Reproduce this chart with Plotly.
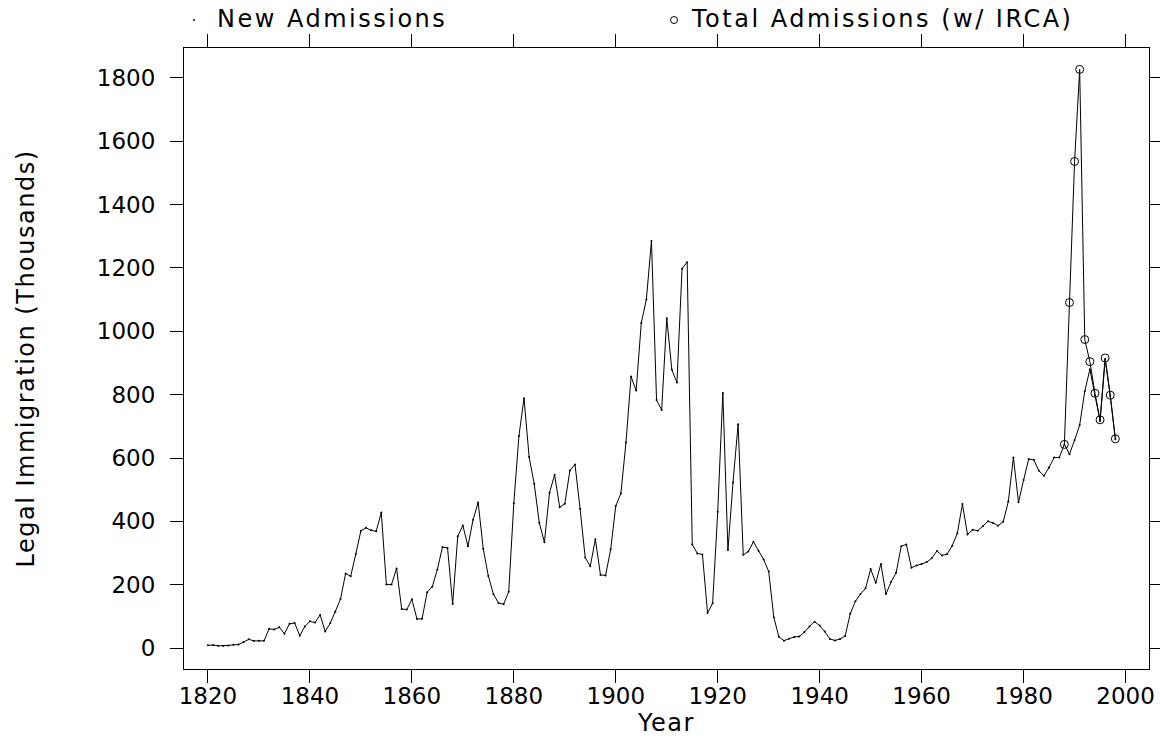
import plotly.graph_objects as go

# Legal immigration to the US (thousands), fiscal years 1820-1998
years = list(range(1820, 1999))
new_admissions = [
    8.4, 9.1, 6.9, 6.4, 7.9, 10.2, 10.8, 18.9, 27.4, 22.5,          # 1820-1829
    23.3, 22.6, 60.5, 58.6, 65.4, 45.4, 76.2, 79.3, 38.9, 68.1,     # 1830-1839
    84.1, 80.3, 104.6, 52.5, 78.6, 114.4, 154.4, 235.0, 226.5, 297.0,  # 1840-1849
    370.0, 379.5, 371.6, 368.6, 427.8, 200.9, 200.4, 251.3, 123.1, 121.3,  # 1850-1859
    153.6, 91.9, 92.0, 176.3, 193.4, 248.1, 318.6, 315.7, 138.8, 352.8,  # 1860-1869
    387.2, 321.4, 404.8, 459.8, 313.3, 227.5, 170.0, 141.9, 138.5, 177.8,  # 1870-1879
    457.3, 669.4, 789.0, 603.3, 518.6, 395.3, 334.2, 490.1, 546.9, 444.4,  # 1880-1889
    455.3, 560.3, 579.7, 439.7, 285.6, 258.5, 343.3, 230.8, 229.3, 311.7,  # 1890-1899
    448.6, 487.9, 648.7, 857.0, 812.9, 1026.5, 1100.7, 1285.3, 782.9, 751.8,  # 1900-1909
    1041.6, 878.6, 838.2, 1197.9, 1218.5, 326.7, 298.8, 295.4, 110.6, 141.1,  # 1910-1919
    430.0, 805.2, 309.6, 522.9, 706.9, 294.3, 304.5, 335.2, 307.3, 279.7,  # 1920-1929
    241.7, 97.1, 35.6, 23.1, 29.5, 35.0, 36.3, 50.2, 67.9, 83.0,          # 1930-1939
    70.8, 51.8, 28.8, 23.7, 28.6, 38.1, 108.7, 147.3, 170.6, 188.3,       # 1940-1949
    249.2, 205.7, 265.5, 170.4, 208.2, 237.8, 321.6, 326.9, 253.3, 260.7,  # 1950-1959
    265.4, 271.3, 283.8, 306.3, 292.2, 296.7, 323.0, 362.0, 454.4, 358.6,  # 1960-1969
    373.3, 370.5, 384.7, 400.1, 394.9, 386.2, 398.6, 462.3, 601.4, 460.3,  # 1970-1979
    530.6, 596.6, 594.1, 559.8, 543.9, 570.0, 601.7, 601.5, 643.0, 612.1,  # 1980-1989
    656.1, 704.0, 810.6, 880.0, 798.4, 716.2, 911.3, 795.8, 659.5,        # 1990-1998
]

irca_years = list(range(1988, 1999))
total_admissions = [643.0, 1090.9, 1536.5, 1827.2, 974.0, 904.3, 804.4, 720.5, 915.9, 798.4, 660.5]

legend_labels = ["New Admissions", "Total Admissions (w/ IRCA)"]
x_ticks = list(range(1820, 2001, 20))
y_ticks = list(range(0, 1801, 200))

FONT = "DejaVu Sans"


def spaced(text, px):
    return '<span style="letter-spacing:%.1fpx">%s</span>' % (px, text)


fig = go.Figure()
fig.add_trace(go.Scatter(
    x=years, y=new_admissions, mode="lines+markers", name=legend_labels[0],
    line=dict(color="black", width=1), marker=dict(color="black", size=2),
    showlegend=False,
))
fig.add_trace(go.Scatter(
    x=irca_years, y=total_admissions, mode="lines+markers", name=legend_labels[1],
    line=dict(color="black", width=1),
    marker=dict(symbol="circle-open", color="black", size=8, line=dict(width=1)),
    showlegend=False,
))

axis_common = dict(
    showline=True, linecolor="black", linewidth=1, mirror="ticks",
    ticks="outside", ticklen=13, tickcolor="black", tickwidth=1,
    showgrid=False, zeroline=False,
    tickfont=dict(family=FONT, size=23, color="black"),
)

fig.update_layout(
    width=1160, height=738,
    margin=dict(l=184, r=11, t=48, b=69, autoexpand=False),
    paper_bgcolor="white", plot_bgcolor="white",
    font=dict(family=FONT, color="black"),
    xaxis=dict(
        range=[1815.3, 2004.6], tickvals=x_ticks,
        title=dict(text=spaced("Year", 1.5), font=dict(family=FONT, size=24, color="black"), standoff=0),
        ticklabelstandoff=-7,
        **axis_common,
    ),
    yaxis=dict(
        range=[-66.3, 1894.7], tickvals=y_ticks,
        title=dict(text=spaced("Legal Immigration (Thousands)", 1.5),
                   font=dict(family=FONT, size=24, color="black"), standoff=55),
        ticklabelstandoff=10,
        **axis_common,
    ),
    annotations=[
        dict(text=spaced(legend_labels[0], 2.5), xref="paper", yref="paper", x=0.0322, y=1.046,
             xanchor="left", yanchor="middle", showarrow=False,
             font=dict(family=FONT, size=24, color="black")),
        dict(text=spaced(legend_labels[1], 2.5), xref="paper", yref="paper", x=0.5234, y=1.046,
             xanchor="left", yanchor="middle", showarrow=False,
             font=dict(family=FONT, size=24, color="black")),
    ],
    shapes=[
        dict(type="circle", xref="paper", yref="paper", xsizemode="pixel", ysizemode="pixel",
             xanchor=0.0104, yanchor=1.045, x0=-1, x1=1, y0=-1, y1=1,
             fillcolor="black", line=dict(color="black", width=0)),
        dict(type="circle", xref="paper", yref="paper", xsizemode="pixel", ysizemode="pixel",
             xanchor=0.5078, yanchor=1.045, x0=-3.5, x1=3.5, y0=-3.5, y1=3.5,
             line=dict(color="black", width=1)),
    ],
)

fig.write_html(
    "out.html",
    config={"displayModeBar": False},
    post_script="document.body.style.margin='0';document.body.style.overflow='hidden';",
)
